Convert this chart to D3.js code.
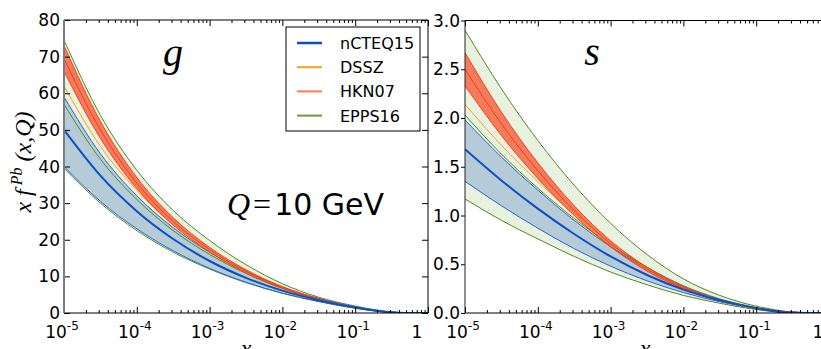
<!DOCTYPE html>
<html><head><meta charset="utf-8">
<script src="https://cdn.jsdelivr.net/npm/d3@7"></script>
<style>body{margin:0;background:#fff}svg{display:block}</style>
</head><body>
<svg id="c" width="821" height="349"></svg>
<script>
// ---- data ----
const logX = [-5, -4.5, -4, -3.5, -3, -2.5, -2, -1.5, -1, -0.7, -0.5, -0.3, 0];
// gluon panel
const gCteqC = [50, 37.5, 27.8, 20.2, 14.2, 9.6, 6.1, 3.5, 1.5, 0.6, 0.2, 0.03, 0];
const gCteqU = [59, 43.5, 32, 23.3, 16.6, 11.2, 7.0, 4.0, 1.65, 0.65, 0.22, 0.04, 0];
const gCteqL = [40, 30.5, 23, 17, 12.2, 8.4, 5.4, 3.1, 1.3, 0.5, 0.15, 0.02, 0];
const gEppsC = [57, 42, 31, 22.5, 16, 10.8, 6.7, 3.8, 1.6, 0.65, 0.22, 0.04, 0];
const gEppsU = [74.5, 54, 39, 28, 19.8, 13.2, 8.0, 4.3, 1.9, 0.8, 0.3, 0.05, 0];
const gEppsL = [39.5, 30, 22.5, 16.6, 12, 8.3, 5.4, 3.2, 1.35, 0.52, 0.16, 0.02, 0];
const gHknC = [69.5, 50, 35.5, 25, 17.3, 11.4, 7.0, 3.8, 1.5, 0.6, 0.2, 0.03, 0];
const gHknU = [73, 52.3, 37, 26, 17.9, 11.8, 7.2, 3.9, 1.55, 0.62, 0.21, 0.03, 0];
const gHknL = [66, 47.7, 34, 24, 16.7, 11.0, 6.8, 3.7, 1.45, 0.58, 0.19, 0.03, 0];
const gDssz = [62, 45.5, 33.5, 24, 17, 11.2, 6.9, 3.8, 1.55, 0.6, 0.2, 0.03, 0];
// strange panel
const sCteqC = [1.68, 1.36, 1.07, 0.81, 0.58, 0.39, 0.24, 0.13, 0.05, 0.016, 0.004, 0, 0];
const sCteqU = [1.98, 1.60, 1.26, 0.95, 0.68, 0.45, 0.27, 0.14, 0.052, 0.017, 0.005, 0, 0];
const sCteqL = [1.35, 1.10, 0.87, 0.66, 0.48, 0.33, 0.21, 0.115, 0.045, 0.014, 0.003, 0, 0];
const sEppsC = [2.03, 1.63, 1.28, 0.97, 0.70, 0.47, 0.28, 0.145, 0.055, 0.018, 0.005, 0, 0];
const sEppsU = [2.9, 2.3, 1.77, 1.31, 0.92, 0.60, 0.35, 0.18, 0.07, 0.028, 0.01, 0.002, 0];
const sEppsL = [1.17, 0.95, 0.76, 0.58, 0.42, 0.29, 0.18, 0.10, 0.035, 0.01, 0.002, 0, 0];
const sHknC = [2.5, 1.94, 1.46, 1.05, 0.71, 0.45, 0.26, 0.13, 0.05, 0.02, 0.008, 0.002, 0];
const sHknU = [2.67, 2.06, 1.54, 1.10, 0.74, 0.47, 0.27, 0.135, 0.052, 0.021, 0.008, 0.002, 0];
const sHknL = [2.33, 1.82, 1.38, 1.00, 0.68, 0.43, 0.25, 0.125, 0.048, 0.019, 0.008, 0.002, 0];
const sDssz = [2.14, 1.72, 1.35, 1.01, 0.70, 0.45, 0.26, 0.13, 0.05, 0.018, 0.006, 0.001, 0];

const legendNames = ["nCTEQ15", "DSSZ", "HKN07", "EPPS16"];
const legendColors = ["#0b4fc6", "#ffa114", "#ff7a5c", "#6a9a3e"];
const gTicks = [0, 10, 20, 30, 40, 50, 60, 70, 80];
const sTicks = [0, 0.5, 1.0, 1.5, 2.0, 2.5, 3.0];
const xExps = [-5, -4, -3, -2, -1, 0];

// ---- drawing ----
const svg = d3.select("#c");
const C = {
  greenFill: "#e9f1e1", green: "#4f8a1e",
  blueFill: "#b6cbd8", blueEdge: "#2a66d0", blue: "#0b4fc6",
  redFill: "#f47c5c", red: "#ff3a12", orange: "#ffa114"
};

function panel(opts) {
  const {x0, x1, y0, y1, yDomain, yTicks, yFmt, data, id, leftSpine, yTickOut, xLabelX} = opts;
  const xs = d3.scaleLog().domain([1e-5, 1]).range([x0, x1]);
  const ys = d3.scaleLinear().domain(yDomain).range([y0, y1]);
  const g = svg.append("g");
  svg.append("clipPath").attr("id", id).append("rect")
     .attr("x", x0).attr("y", y1).attr("width", x1 - x0).attr("height", y0 - y1);
  const plot = g.append("g").attr("clip-path", `url(#${id})`);
  const px = i => xs(Math.pow(10, logX[i]));
  const area = (lo, hi) => d3.area().x((d, i) => px(i)).y0((d, i) => ys(lo[i])).y1((d, i) => ys(hi[i])).curve(d3.curveMonotoneX)(logX);
  const line = arr => d3.line().x((d, i) => px(i)).y((d, i) => ys(arr[i])).curve(d3.curveMonotoneX)(logX);
  plot.append("path").attr("d", area(data.eL, data.eU)).attr("fill", C.greenFill);
  plot.append("path").attr("d", area(data.cL, data.cU)).attr("fill", C.blueFill);
  plot.append("path").attr("d", area(data.hL, data.hU)).attr("fill", C.redFill);
  const L = (arr, col, w) => plot.append("path").attr("d", line(arr)).attr("fill", "none").attr("stroke", col).attr("stroke-width", w);
  L(data.eU, C.green, 1); L(data.eL, C.green, 1); L(data.eC, C.green, 1);
  L(data.cU, C.blueEdge, 1); L(data.cL, C.blueEdge, 1);
  L(data.d, C.orange, 1);
  L(data.hU, C.red, 1); L(data.hL, C.red, 1); L(data.hC, C.red, 1);
  L(data.cC, C.blue, 2);

  // axes: ticks inward
  const majors = xExps.map(e => Math.pow(10, e));
  const minors = [];
  for (let e = -5; e < 0; e++) for (let k = 2; k <= 9; k++) minors.push(k * Math.pow(10, e));
  g.append("g").attr("transform", `translate(0,${y0})`)
    .call(d3.axisBottom(xs).tickValues(minors).tickSize(-3).tickFormat(""));
  g.append("g").attr("transform", `translate(0,${y0})`)
    .call(d3.axisBottom(xs).tickValues(majors).tickSize(-6).tickFormat(""));
  g.append("g").attr("transform", `translate(0,${y1})`)
    .call(d3.axisTop(xs).tickValues(minors).tickSize(-3).tickFormat(""));
  g.append("g").attr("transform", `translate(0,${y1})`)
    .call(d3.axisTop(xs).tickValues(majors).tickSize(-6).tickFormat(""));
  g.append("g").attr("transform", `translate(${x0},0)`)
    .call(d3.axisLeft(ys).tickValues(yTicks).tickSize(yTickOut ? 4 : -6).tickFormat(""));
  g.append("g").attr("transform", `translate(${x1},0)`)
    .call(d3.axisRight(ys).tickValues(yTicks).tickSize(-6).tickFormat(""));
  g.selectAll(".domain").remove();
  g.selectAll(".tick line").attr("stroke", "#000").attr("stroke-width", 1);
  // frame
  g.append("line").attr("x1", x0).attr("x2", x1).attr("y1", y1).attr("y2", y1).attr("stroke", "#000");
  g.append("line").attr("x1", x0).attr("x2", x1).attr("y1", y0).attr("y2", y0).attr("stroke", "#000");
  g.append("line").attr("x1", x1).attr("x2", x1).attr("y1", y1).attr("y2", y0).attr("stroke", "#000");
  g.append("line").attr("x1", x0).attr("x2", x0).attr("y1", y1).attr("y2", y0)
    .attr("stroke", leftSpine.color).attr("stroke-width", leftSpine.width);

  // y tick labels
  g.selectAll(".ylab").data(yTicks).enter().append("text")
    .attr("x", x0 - (yTickOut ? 5 : 4)).attr("y", d => ys(d) + 6)
    .attr("text-anchor", "end").attr("font-family", "DejaVu Sans").attr("font-size", 17)
    .text(yFmt);
  // x tick labels
  xExps.forEach(e => {
    const t = g.append("text").attr("font-family", "DejaVu Sans").attr("font-size", 17).attr("y", 338);
    if (e === 0) {
      t.attr("x", xs(1) - 11).attr("text-anchor", "middle").text("1");
    } else {
      t.attr("x", xs(Math.pow(10, e)) - 2).attr("text-anchor", "middle");
      t.append("tspan").text("10");
      t.append("tspan").attr("dy", -8).attr("font-size", 12).text(String(e));
    }
  });
  // x label
  g.append("text").attr("x", xLabelX).attr("y", 356).attr("text-anchor", "middle")
    .attr("font-family", "Liberation Serif").attr("font-style", "italic").attr("font-size", 24).text("x");
  return {xs, ys};
}

panel({x0: 64, x1: 428, y0: 313, y1: 20, yDomain: [0, 80], yTicks: gTicks, yFmt: d => d, id: "clipG",
  leftSpine: {color: "#7f7f7f", width: 2}, yTickOut: false, xLabelX: 246,
  data: {cC: gCteqC, cU: gCteqU, cL: gCteqL, eC: gEppsC, eU: gEppsU, eL: gEppsL, hC: gHknC, hU: gHknU, hL: gHknL, d: gDssz}});
panel({x0: 465, x1: 829, y0: 313, y1: 20.5, yDomain: [0, 3], yTicks: sTicks, yFmt: d => d.toFixed(1), id: "clipS",
  leftSpine: {color: "#222", width: 1}, yTickOut: true, xLabelX: 645,
  data: {cC: sCteqC, cU: sCteqU, cL: sCteqL, eC: sEppsC, eU: sEppsU, eL: sEppsL, hC: sHknC, hU: sHknU, hL: sHknL, d: sDssz}});

// panel labels
svg.append("text").attr("x", 173).attr("y", 66).attr("text-anchor", "middle")
  .attr("font-family", "Liberation Serif").attr("font-style", "italic").attr("font-size", 40).text("g");
svg.append("text").attr("x", 592).attr("y", 65).attr("text-anchor", "middle")
  .attr("font-family", "Liberation Serif").attr("font-style", "italic").attr("font-size", 40).text("s");
// Q = 10 GeV
const q = svg.append("text").attr("x", 227).attr("y", 215).attr("font-size", 30);
q.append("tspan").attr("font-family", "Liberation Serif").attr("font-style", "italic").attr("font-size", 32).text("Q");
q.append("tspan").attr("font-family", "Liberation Serif").attr("font-size", 32).attr("dx", 3).text("=");
q.append("tspan").attr("font-family", "DejaVu Sans").attr("dx", 3).text("10 GeV");

// y label
const yl = svg.append("text").attr("transform", "translate(31,162) rotate(-90)").attr("text-anchor", "middle")
  .attr("font-family", "Liberation Serif").attr("font-style", "italic").attr("font-size", 24);
yl.append("tspan").text("x f");
yl.append("tspan").attr("dy", -9).attr("font-size", 16).text(" Pb");
yl.append("tspan").attr("dy", 9).text(" (x,Q)");

// legend
const lg = svg.append("g");
lg.append("rect").attr("x", 286).attr("y", 27).attr("width", 134).attr("height", 104)
  .attr("fill", "#fff").attr("stroke", "#000").attr("stroke-width", 1);
legendNames.forEach((n, i) => {
  const y = 43 + i * 24.2;
  lg.append("line").attr("x1", 297).attr("x2", 322).attr("y1", y).attr("y2", y)
    .attr("stroke", legendColors[i]).attr("stroke-width", i === 0 ? 2.5 : 2);
  lg.append("text").attr("x", 340).attr("y", y + 6).attr("font-family", "DejaVu Sans").attr("font-size", 16).text(n);
});
</script>
</body></html>
